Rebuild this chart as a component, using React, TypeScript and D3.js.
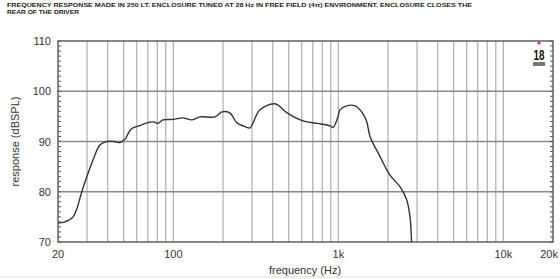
import * as d3 from 'd3'

const TITLE_LINES = [
  'FREQUENCY RESPONSE MADE IN 250 LT. ENCLOSURE TUNED AT 28 Hz IN FREE FIELD (4π) ENVIRONMENT. ENCLOSURE CLOSES THE',
  'REAR OF THE DRIVER',
]

const FREQ = [20, 22, 24.7, 28.3, 32.6, 35.9, 39.6, 44, 47.5, 51, 54.6, 56.9, 62, 69, 76, 80.7, 86.5, 100, 114, 130, 145, 179, 197, 220, 243, 270, 292, 304, 335, 413, 489, 611, 750, 891, 930, 995, 1023, 1124, 1262, 1386, 1486, 1556, 1790, 2057, 2365, 2595, 2718, 2780, 2820]
const SPL = [73.8, 74.0, 75.0, 80.7, 86.3, 89.3, 90.0, 90.0, 89.8, 90.5, 92.2, 92.7, 93.1, 93.7, 93.9, 93.6, 94.3, 94.4, 94.7, 94.3, 94.9, 94.9, 95.9, 95.7, 93.7, 93.0, 92.7, 93.7, 96.3, 97.5, 95.7, 94.1, 93.6, 93.1, 92.8, 94.9, 96.3, 97.1, 97.1, 95.9, 94.0, 91.0, 87.0, 83.3, 81.0, 78.4, 75.0, 70.0, 66.0]

const Y_TICKS = [70, 80, 90, 100, 110]
const X_TICKS = [20, 100, 1000, 10000, 20000]
const X_TICK_LABELS = ['20', '100', '1k', '10k', '20k']
const X_GRID = [30, 40, 50, 60, 70, 80, 90, 100, 200, 300, 400, 500, 600, 700, 800, 900, 1000, 2000, 3000, 4000, 5000, 6000, 7000, 8000, 9000, 10000]

const W = 560
const H = 279
const left = 58
const right = 553
const top = 41
const bottom = 242

export default function App() {
  const x = d3.scaleLog().domain([20, 20000]).range([left, right])
  const y = d3.scaleLinear().domain([70, 110]).range([bottom, top])
  const pts = FREQ.map((f, i) => [f, SPL[i]] as [number, number])
  const line = d3.line<[number, number]>()
    .x(d => x(d[0]))
    .y(d => y(d[1]))
    .curve(d3.curveCatmullRom.alpha(0.5))
  const minor = d3.range(70, 111, 1)
  const font = 'Liberation Sans, Arial, sans-serif'

  return (
    <svg width={W} height={H} style={{ position: 'absolute', left: 0, top: 0, background: '#fff' }}>
      <defs>
        <clipPath id="plot">
          <rect x={left} y={top} width={right - left} height={bottom - top} />
        </clipPath>
      </defs>
      {TITLE_LINES.map((t, i) => (
        <text key={i} x={7} y={7 + i * 7} fontFamily={font} fontSize={5.6} fontWeight="bold" fill="#222"
          textLength={i === 0 ? 465 : 72} lengthAdjust="spacingAndGlyphs">{t}</text>
      ))}
      {X_GRID.map(f => (
        <line key={f} x1={x(f)} x2={x(f)} y1={top} y2={bottom} stroke="#b4b4b4" strokeWidth={1.3} />
      ))}
      {Y_TICKS.slice(1, -1).map(v => (
        <line key={v} x1={left} x2={right} y1={y(v)} y2={y(v)} stroke="#8a8a8a" strokeWidth={1.3} />
      ))}
      <rect x={left} y={top} width={right - left} height={bottom - top} fill="none" stroke="#555" strokeWidth={1.4} />
      {minor.map(v => (
        <g key={v}>
          <line x1={left} x2={left + 3} y1={y(v)} y2={y(v)} stroke="#555" strokeWidth={1} />
          <line x1={right - 3} x2={right} y1={y(v)} y2={y(v)} stroke="#555" strokeWidth={1} />
        </g>
      ))}
      <path d={line(pts) ?? ''} fill="none" stroke="#333" strokeWidth={1.4} clipPath="url(#plot)" />
      {Y_TICKS.map(v => (
        <text key={v} x={51} y={y(v) + 4} textAnchor="end" fontFamily={font} fontSize={11} fill="#333">{v}</text>
      ))}
      {X_TICKS.map((f, i) => (
        <text key={f} x={i === X_TICKS.length - 1 ? 558 : x(f)} y={258} textAnchor={i === X_TICKS.length - 1 ? 'end' : 'middle'}
          fontFamily={font} fontSize={11} fill="#333">{X_TICK_LABELS[i]}</text>
      ))}
      <text x={305} y={274} textAnchor="middle" fontFamily={font} fontSize={11} fill="#333">frequency (Hz)</text>
      <text transform={`translate(19,${(top + bottom) / 2}) rotate(-90)`} textAnchor="middle" fontFamily={font} fontSize={11} fill="#333">response (dBSPL)</text>
      <circle cx={539} cy={43} r={1.6} fill="#d33" />
      <text x={539} y={60} textAnchor="middle" fontFamily={font} fontSize={14} fontWeight="bold" fill="#111" textLength={11} lengthAdjust="spacingAndGlyphs">18</text>
      <rect x={533} y={62} width={12} height={4} fill="#777" />
      <line x1={0} x2={W} y1={277} y2={277} stroke="#ddd" strokeWidth={1} />
    </svg>
  )
}
